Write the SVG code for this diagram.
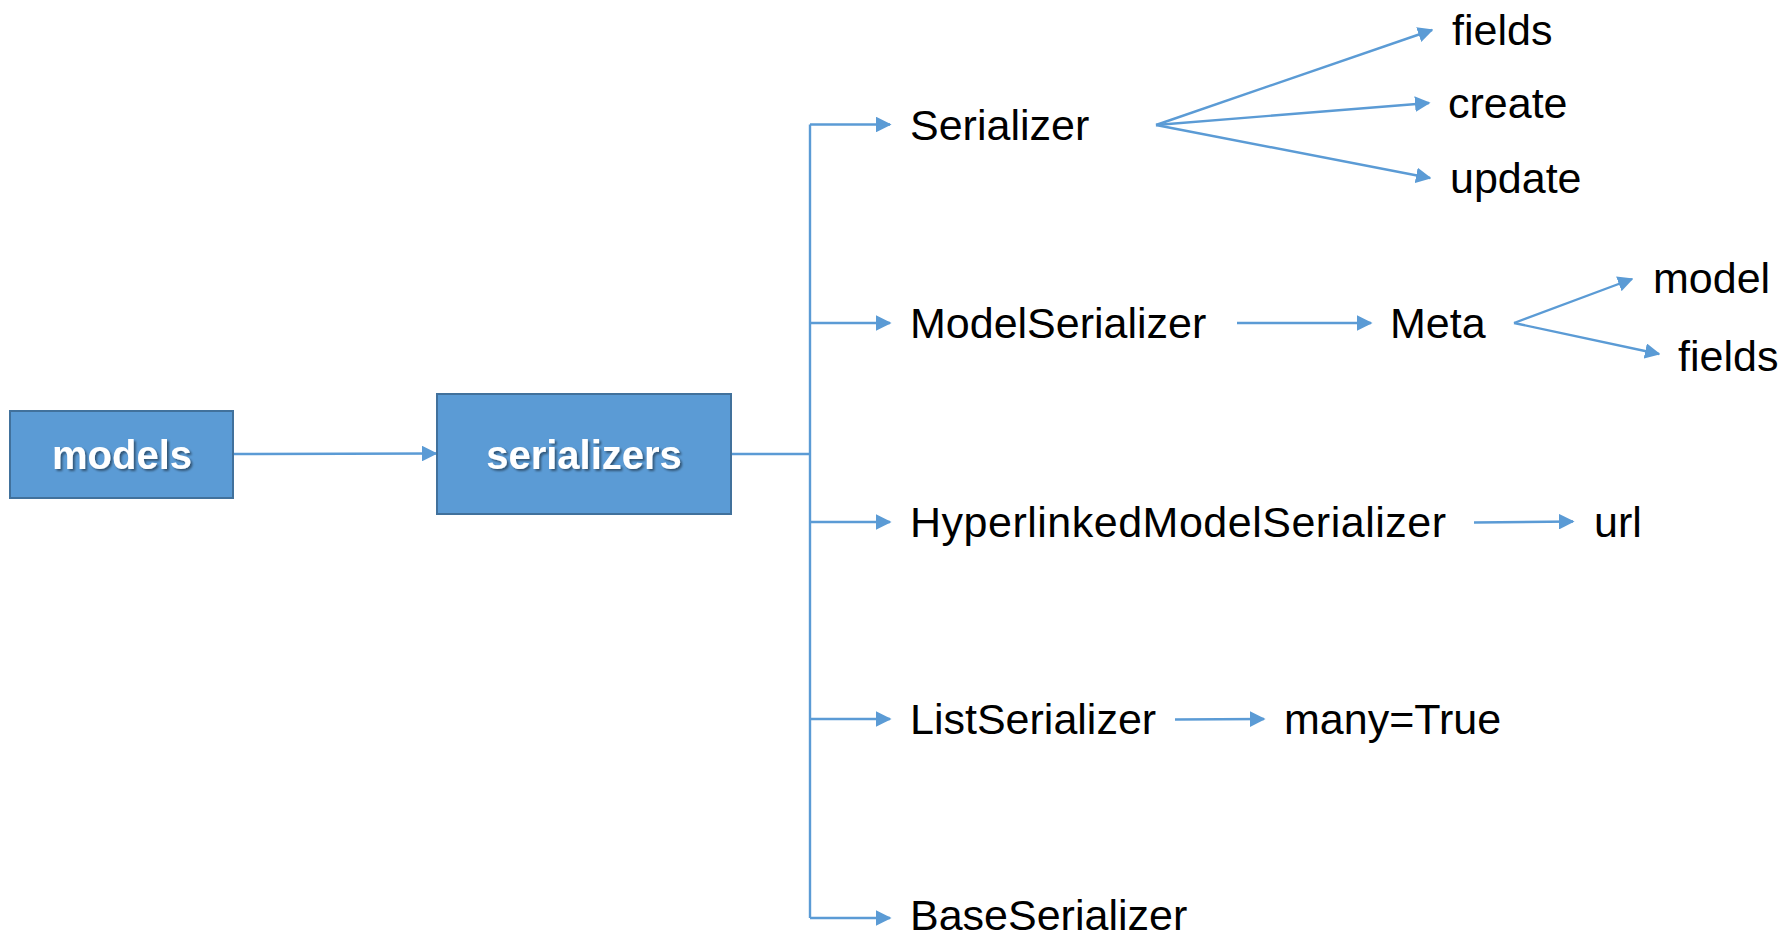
<svg xmlns="http://www.w3.org/2000/svg" width="1790" height="938" viewBox="0 0 1790 938">
<style>
.box{fill:#5B9BD5;stroke:#41719C;stroke-width:2}
.bt{font-family:"Liberation Sans",Arial,sans-serif;font-weight:bold;font-size:40px;fill:#fff;text-anchor:middle}
.t{font-family:"Liberation Sans",Arial,sans-serif;font-size:43px;fill:#000}
.c{stroke:#5B9BD5;stroke-width:2.4;fill:none}
</style>
<defs>
<marker id="ah" viewBox="0 0 10 10" refX="9" refY="5" markerWidth="6.5" markerHeight="6.5" markerUnits="strokeWidth" orient="auto">
<path d="M0,0 L10,5 L0,10 z" fill="#5B9BD5"/>
</marker>
<filter id="sh" x="-10%" y="-10%" width="130%" height="140%">
<feDropShadow dx="2" dy="2" stdDeviation="1.2" flood-color="#000" flood-opacity="0.45"/>
</filter>
</defs>
<rect width="1790" height="938" fill="#fff"/>
<g id="connectors">
<path class="c" d="M233,454 L436,453.5" marker-end="url(#ah)"/>
<path class="c" d="M731,454 L810,454"/>
<path class="c" d="M810,124.5 L810,918"/>
<path class="c" d="M810,124.5 L890,124.5" marker-end="url(#ah)"/>
<path class="c" d="M810,323 L890,323" marker-end="url(#ah)"/>
<path class="c" d="M810,522 L890,522" marker-end="url(#ah)"/>
<path class="c" d="M810,719 L890,719" marker-end="url(#ah)"/>
<path class="c" d="M810,918 L890,918" marker-end="url(#ah)"/>
<path class="c" d="M1156,125 L1432,30" marker-end="url(#ah)"/>
<path class="c" d="M1156,125 L1429,103" marker-end="url(#ah)"/>
<path class="c" d="M1156,125 L1430,178" marker-end="url(#ah)"/>
<path class="c" d="M1237,323 L1371,323" marker-end="url(#ah)"/>
<path class="c" d="M1514,323 L1632,279" marker-end="url(#ah)"/>
<path class="c" d="M1514,323 L1659,354" marker-end="url(#ah)"/>
<path class="c" d="M1474,522.5 L1573,521.5" marker-end="url(#ah)"/>
<path class="c" d="M1175,719.5 L1264,719" marker-end="url(#ah)"/>
</g>
<g id="models">
<rect class="box" x="10" y="411" width="223" height="87"/>
<text class="bt" x="122" y="469" filter="url(#sh)">models</text>
</g>
<g id="serializers">
<rect class="box" x="437" y="394" width="294" height="120"/>
<text class="bt" x="584" y="469" filter="url(#sh)">serializers</text>
</g>
<g id="Serializer"><text class="t" x="910" y="140">Serializer</text></g>
<g id="fields1"><text class="t" x="1452" y="45">fields</text></g>
<g id="create"><text class="t" x="1448" y="118">create</text></g>
<g id="update"><text class="t" x="1450" y="193">update</text></g>
<g id="ModelSerializer"><text class="t" x="910" y="338">ModelSerializer</text></g>
<g id="Meta"><text class="t" x="1390" y="338">Meta</text></g>
<g id="model"><text class="t" x="1653" y="293">model</text></g>
<g id="fields2"><text class="t" x="1678" y="371">fields</text></g>
<g id="HyperlinkedModelSerializer"><text class="t" x="910" y="537" textLength="536">HyperlinkedModelSerializer</text></g>
<g id="url"><text class="t" x="1594" y="537">url</text></g>
<g id="ListSerializer"><text class="t" x="910" y="734">ListSerializer</text></g>
<g id="many"><text class="t" x="1284" y="734">many=True</text></g>
<g id="BaseSerializer"><text class="t" x="910" y="930">BaseSerializer</text></g>
</svg>
